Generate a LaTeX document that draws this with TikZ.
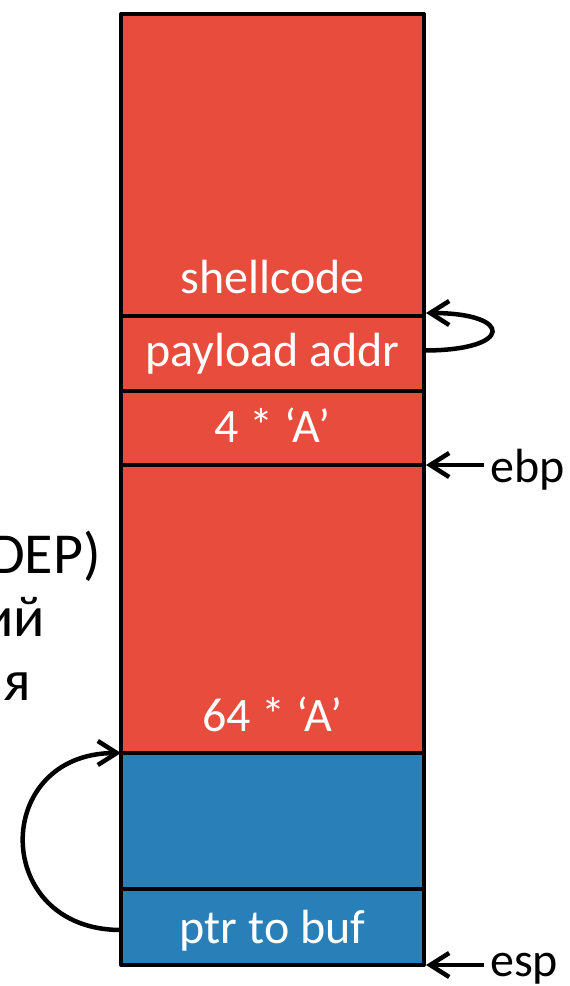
\documentclass[tikz,border=0pt]{standalone}
\usepackage{fontspec}
\setmainfont{Carlito}
\usetikzlibrary{arrows.meta}
\definecolor{cellred}{RGB}{231,76,60}
\definecolor{cellblue}{RGB}{41,128,185}
\begin{document}
\begin{tikzpicture}[x=1pt,y=-1pt,
  cell/.style={draw=black, line width=4pt, line join=round, minimum width=303pt, inner sep=0pt, outer sep=0pt, anchor=north west},
  celltext/.style={text=white, font=\fontsize{48}{56}\selectfont, anchor=base, inner sep=0pt},
  sidetext/.style={font=\fontsize{58}{66}\selectfont, anchor=base east, inner sep=0pt},
  regtext/.style={font=\fontsize{48}{56}\selectfont, anchor=base west, inner sep=0pt},
  arr/.style={line width=4.5pt, -{Straight Barb[length=19pt,width=24pt]}}
]
\useasboundingbox (0,0) rectangle (570,986);
% stack cells
\node[cell, fill=cellred, minimum height=302pt] (shell) at (121,14) {};
\node[cell, fill=cellred, minimum height=75pt] (pay) at (121,316) {};
\node[cell, fill=cellred, minimum height=74pt] (four) at (121,391) {};
\node[cell, fill=cellred, minimum height=288pt] (sixty) at (121,465) {};
\node[cell, fill=cellblue, minimum height=136pt] (blue) at (121,753) {};
\node[cell, fill=cellblue, minimum height=76pt] (ptr) at (121,889) {};
% cell texts
\node[celltext] (tshell) at (272.5,293) {shellcode};
\node[celltext] (tpay) at (272.5,366) {payload addr};
\node[celltext] (tfour) at (272.5,442) {4 * ‘A’};
\node[celltext] (tsixty) at (272.5,731) {64 * ‘A’};
\node[celltext] (tptr) at (272.5,943) {ptr to buf};
% register labels
\node[regtext] (ebp) at (490,482) {ebp};
\node[regtext] (esp) at (490,976) {esp};
\coordinate (ebpstart) at (484,465);
\coordinate (espstart) at (484,965);
\draw[arr] (ebpstart) -- ([xshift=2pt]sixty.north east);
\draw[arr] (espstart) -- ([xshift=2pt]ptr.south east);
% loops
\draw[arr] ([yshift=3pt]pay.east) .. controls +(90,0) and +(88,0) .. ([xshift=2pt,yshift=3pt]shell.south east);
\draw[arr] ([yshift=-3pt]ptr.west) .. controls +(-130,0) and +(-130,0) .. (blue.north west);
% cropped side text
\node[sidetext] (s1) at (101,573) {DEP)};
\node[sidetext] (s2) at (45,636) {ий};
\node[sidetext] (s3) at (31,700) {я};
\end{tikzpicture}
\end{document}
